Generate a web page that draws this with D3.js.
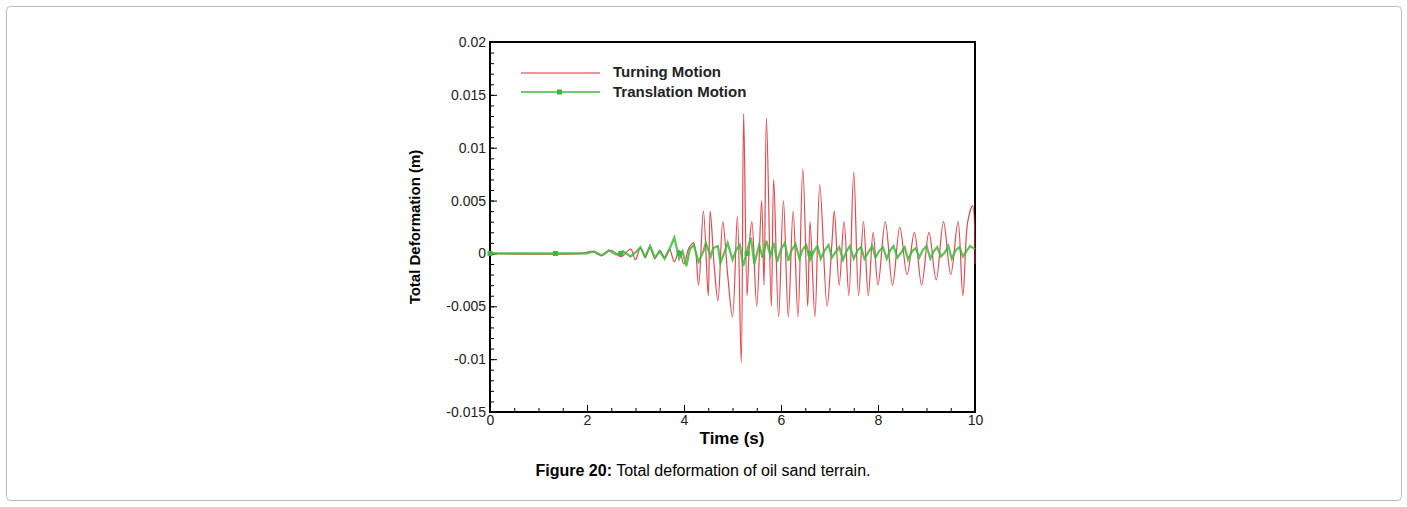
<!DOCTYPE html><html><head><script src="https://cdn.jsdelivr.net/npm/d3@7"></script>
<style>body{margin:0;background:#fff}</style></head><body><svg id="c" width="1407" height="507"></svg>
<script>
const xTicks=[0,2,4,6,8,10];
const yTicks=[0.02,0.015,0.01,0.005,0,-0.005,-0.01,-0.015];
const yTickLabels=["0.02","0.015","0.01","0.005","0","-0.005","-0.01","-0.015"];
const turningT=[0,1.9,2.1,2.3,2.5,2.7,2.9,3.0,3.1,3.2,3.3,3.4,3.5,3.6,3.7,3.8,3.9,4.0,4.1,4.2,4.3,4.4,4.5,4.54,4.62,4.7,4.8,4.9,5.0,5.1,5.18,5.23,5.3,5.35,5.4,5.5,5.6,5.65,5.7,5.8,5.85,5.95,6.05,6.15,6.25,6.35,6.45,6.55,6.6,6.7,6.8,6.95,7.05,7.1,7.2,7.3,7.4,7.5,7.6,7.7,7.8,7.9,8.0,8.15,8.3,8.45,8.6,8.75,8.9,9.05,9.2,9.35,9.5,9.65,9.75,9.85,9.95,10];
const turningV=[0,0,0.0002,-0.0002,0.0003,-0.0003,0.0004,-0.0006,0.0005,-0.0004,0.0006,-0.0005,0.0003,-0.0004,0.0004,-0.0008,0.0003,-0.001,0.0005,0.001,-0.003,0.004,-0.004,0.004,-0.001,-0.0045,0.003,-0.002,-0.006,0.0035,-0.0103,0.0132,-0.004,0.001,0.003,-0.005,0.005,-0.003,0.0128,-0.005,0.007,-0.006,0.005,-0.006,0.004,-0.006,0.008,-0.005,0.003,-0.006,0.0065,-0.005,0.001,0.004,-0.003,0.003,-0.004,0.0077,-0.004,0.003,-0.004,0.002,-0.003,0.003,-0.003,0.0025,-0.002,0.002,-0.003,0.002,-0.0025,0.003,-0.002,0.003,-0.004,0.003,0.0045,-0.001];
const transT=[0,2.0,2.15,2.3,2.45,2.6,2.75,2.9,3.0,3.1,3.2,3.3,3.4,3.5,3.6,3.7,3.8,3.9,3.97,4.05,4.12,4.2,4.3,4.4,4.45,4.55,4.6,4.7,4.75,4.85,4.9,5.0,5.08,5.15,5.22,5.3,5.38,5.45,5.55,5.62,5.7,5.78,5.85,5.92,6.0,6.08,6.15,6.22,6.3,6.38,6.45,6.52,6.6,6.68,6.75,6.82,6.9,6.98,7.05,7.12,7.2,7.28,7.35,7.42,7.5,7.58,7.65,7.72,7.8,7.88,7.95,8.02,8.1,8.18,8.25,8.32,8.4,8.48,8.55,8.62,8.7,8.78,8.85,8.92,9.0,9.08,9.15,9.22,9.3,9.38,9.45,9.52,9.6,9.68,9.75,9.82,9.9,10];
const transV=[0,0,0.0002,-0.0002,0.0003,-0.0001,0.0002,-0.0003,0.0001,0.0006,-0.0003,0.0007,-0.0004,0.0002,-0.0005,0.0004,0.0015,-0.0005,0.0002,-0.0012,0.0004,0.0008,-0.0008,0.0002,0.001,-0.0003,0.0005,0.0007,-0.0009,0.0003,0.001,-0.0006,0.0004,0.0008,-0.0012,0.0002,0.0015,-0.001,0.0008,-0.0004,0.0012,-0.0002,0.001,-0.0008,0.0004,0.001,-0.0007,0.0003,0.0009,-0.0005,0.0004,0.0008,-0.0006,0.0002,0.0007,-0.0005,0.0003,0.0008,-0.0004,0.0001,0.0006,-0.0006,0.0002,0.0007,-0.0005,0.0003,0.0006,-0.0005,0.0001,0.0007,-0.0004,0.0002,0.0006,-0.0005,0.0003,0.0007,-0.0004,0.0001,0.0006,-0.0006,0.0002,0.0005,-0.0004,0.0003,0.0007,-0.0005,0.0002,0.0006,-0.0003,0.0001,0.0007,-0.0005,0.0003,0.0006,-0.0003,0.0002,0.0007,0.0004];
const markerT=[0,1.35,2.7,3.9,5.3,6.6];

const svg=d3.select("#c");
svg.append("rect").attr("x",6.5).attr("y",6.5).attr("width",1395).attr("height",494).attr("rx",4).attr("fill","none").attr("stroke","#bbb");
const x=d3.scaleLinear().domain([0,10]).range([490,975]);
const y=d3.scaleLinear().domain([-0.015,0.02]).range([412,42]);
const g=svg.append("g");
g.append("g").attr("transform","translate(0,412)").call(d3.axisBottom(x).tickValues(xTicks).tickSize(-7).tickPadding(3));
g.append("g").attr("transform","translate(0,412)").call(d3.axisBottom(x).ticks(20).tickSize(-4).tickFormat(""));
g.append("g").attr("transform","translate(490,0)").call(d3.axisLeft(y).tickValues(yTicks).tickFormat((d,i)=>yTickLabels[i]).tickSize(-7).tickPadding(4));
g.append("g").attr("transform","translate(490,0)").call(d3.axisLeft(y).ticks(35).tickSize(-4).tickFormat(""));
g.selectAll(".domain").remove();
g.selectAll("text").attr("font-family","Liberation Sans,Arial").attr("font-size",14).attr("fill","#222");
g.append("rect").attr("x",490).attr("y",42).attr("width",485).attr("height",370).attr("fill","none").attr("stroke","#000").attr("stroke-width",2);
const lineR=d3.line().x((d,i)=>x(turningT[i])).y(d=>y(d)).curve(d3.curveCatmullRom);
const lineG=d3.line().x((d,i)=>x(transT[i])).y(d=>y(d));
g.append("path").attr("d",lineR(turningV)).attr("fill","none").attr("stroke","#e0282e").attr("stroke-width",1.2).attr("opacity",0.85);
g.append("path").attr("d",lineG(transV)).attr("fill","none").attr("stroke","#3db83d").attr("stroke-width",2.2).attr("opacity",0.85);
g.selectAll("rect.m").data(markerT).enter().append("rect").attr("x",d=>x(d)-2.5).attr("y",y(0)-2.5).attr("width",5).attr("height",5).attr("fill","#3db83d");
g.append("line").attr("x1",521).attr("x2",600).attr("y1",73).attr("y2",73).attr("stroke","#e0282e").attr("stroke-width",1.2);
g.append("line").attr("x1",521).attr("x2",600).attr("y1",92).attr("y2",92).attr("stroke","#3db83d").attr("stroke-width",1.5);
g.append("rect").attr("x",557).attr("y",89.5).attr("width",5).attr("height",5).attr("fill","#3db83d");
g.append("text").attr("x",613).attr("y",77).text("Turning Motion").attr("font-family","Liberation Sans,Arial").attr("font-weight","bold").attr("font-size",15).attr("fill","#222");
g.append("text").attr("x",613).attr("y",97).text("Translation Motion").attr("font-family","Liberation Sans,Arial").attr("font-weight","bold").attr("font-size",15).attr("fill","#222");
g.append("text").attr("x",732).attr("y",444).attr("text-anchor","middle").text("Time (s)").attr("font-family","Liberation Sans,Arial").attr("font-weight","bold").attr("font-size",17);
g.append("text").attr("transform","translate(420,227) rotate(-90)").attr("text-anchor","middle").text("Total Deformation (m)").attr("font-family","Liberation Sans,Arial").attr("font-weight","bold").attr("font-size",15);
const cap=svg.append("text").attr("x",703).attr("y",476).attr("text-anchor","middle").attr("font-family","Liberation Sans,Arial").attr("font-size",16);
cap.append("tspan").attr("font-weight","bold").text("Figure 20:");
cap.append("tspan").text(" Total deformation of oil sand terrain.");
</script></body></html>
